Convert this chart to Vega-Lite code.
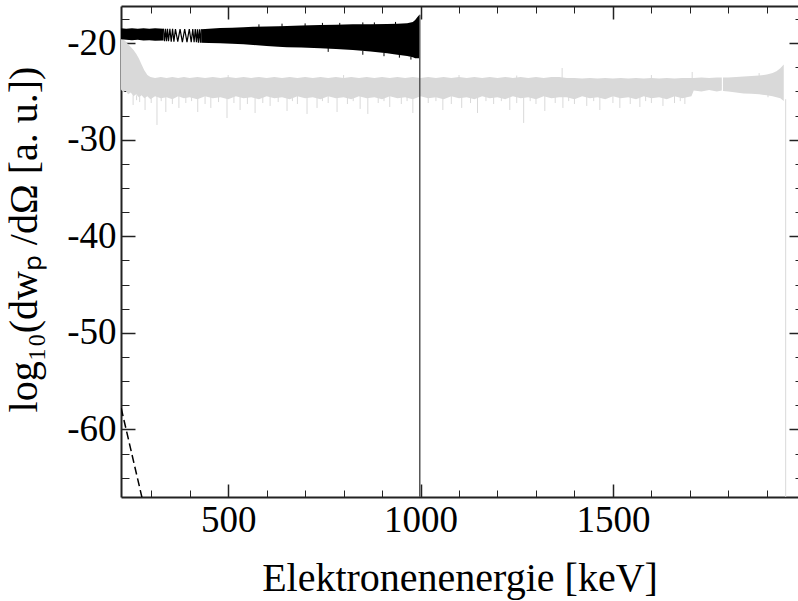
{
  "$schema": "https://vega.github.io/schema/vega-lite/v6.json",
  "width": 677,
  "height": 491,
  "autosize": {"type": "none"},
  "padding": {"left": 121, "top": 6, "right": 0, "bottom": 104},
  "config": {
    "view": {"stroke": null},
    "font": "Liberation Serif, Times New Roman, serif",
    "axis": {"grid": false, "domain": false, "labelFont": "Liberation Serif, Times New Roman, serif", "titleFont": "Liberation Serif, Times New Roman, serif", "labelColor": "#000", "titleColor": "#000", "tickColor": "#222", "domainColor": "#222", "zindex": 1}
  },
  "datasets": {
    "gray": [
      {"e": 221.5, "hi": -19.5, "lo": -24.8}, {"e": 227, "hi": -19.6, "lo": -25.1}, {"e": 233, "hi": -19.8, "lo": -24.9},
      {"e": 240, "hi": -20.1, "lo": -25.3}, {"e": 247, "hi": -20.4, "lo": -25.1}, {"e": 254, "hi": -20.7, "lo": -25.5},
      {"e": 261, "hi": -21.1, "lo": -25.3}, {"e": 268, "hi": -21.6, "lo": -25.6}, {"e": 275, "hi": -22.2, "lo": -25.4},
      {"e": 282, "hi": -22.8, "lo": -25.7}, {"e": 290, "hi": -23.3, "lo": -25.5}, {"e": 298, "hi": -23.5, "lo": -25.8},
      {"e": 310, "hi": -23.6, "lo": -25.5}, {"e": 325, "hi": -23.5, "lo": -25.7}, {"e": 340, "hi": -23.6, "lo": -25.6},
      {"e": 355, "hi": -23.5, "lo": -25.8}, {"e": 370, "hi": -23.6, "lo": -25.5}, {"e": 385, "hi": -23.5, "lo": -25.7},
      {"e": 400, "hi": -23.6, "lo": -25.6}, {"e": 420, "hi": -23.5, "lo": -25.8}, {"e": 440, "hi": -23.6, "lo": -25.5},
      {"e": 460, "hi": -23.5, "lo": -25.7}, {"e": 480, "hi": -23.6, "lo": -25.6}, {"e": 500, "hi": -23.5, "lo": -25.8},
      {"e": 520, "hi": -23.6, "lo": -25.5}, {"e": 540, "hi": -23.5, "lo": -25.7}, {"e": 560, "hi": -23.6, "lo": -25.6},
      {"e": 580, "hi": -23.5, "lo": -25.8}, {"e": 600, "hi": -23.6, "lo": -25.5}, {"e": 620, "hi": -23.5, "lo": -25.7},
      {"e": 640, "hi": -23.6, "lo": -25.6}, {"e": 660, "hi": -23.5, "lo": -25.8}, {"e": 680, "hi": -23.6, "lo": -25.5},
      {"e": 700, "hi": -23.5, "lo": -25.7}, {"e": 720, "hi": -23.6, "lo": -25.6}, {"e": 740, "hi": -23.5, "lo": -25.8},
      {"e": 760, "hi": -23.6, "lo": -25.5}, {"e": 780, "hi": -23.5, "lo": -25.7}, {"e": 800, "hi": -23.6, "lo": -25.6},
      {"e": 820, "hi": -23.5, "lo": -25.8}, {"e": 840, "hi": -23.6, "lo": -25.5}, {"e": 860, "hi": -23.5, "lo": -25.7},
      {"e": 880, "hi": -23.6, "lo": -25.6}, {"e": 900, "hi": -23.5, "lo": -25.8}, {"e": 920, "hi": -23.6, "lo": -25.5},
      {"e": 940, "hi": -23.5, "lo": -25.7}, {"e": 960, "hi": -23.6, "lo": -25.6}, {"e": 980, "hi": -23.5, "lo": -25.8},
      {"e": 1000, "hi": -23.6, "lo": -25.5}, {"e": 1020, "hi": -23.5, "lo": -25.7}, {"e": 1040, "hi": -23.6, "lo": -25.6},
      {"e": 1060, "hi": -23.5, "lo": -25.8}, {"e": 1080, "hi": -23.6, "lo": -25.5}, {"e": 1100, "hi": -23.5, "lo": -25.7},
      {"e": 1120, "hi": -23.6, "lo": -25.6}, {"e": 1140, "hi": -23.5, "lo": -25.8}, {"e": 1160, "hi": -23.6, "lo": -25.5},
      {"e": 1180, "hi": -23.5, "lo": -25.7}, {"e": 1200, "hi": -23.6, "lo": -25.6}, {"e": 1220, "hi": -23.5, "lo": -25.8},
      {"e": 1240, "hi": -23.6, "lo": -25.5}, {"e": 1260, "hi": -23.5, "lo": -25.7}, {"e": 1280, "hi": -23.6, "lo": -25.6},
      {"e": 1300, "hi": -23.5, "lo": -25.8}, {"e": 1320, "hi": -23.6, "lo": -25.5}, {"e": 1340, "hi": -23.5, "lo": -25.7},
      {"e": 1360, "hi": -23.5, "lo": -25.6}, {"e": 1380, "hi": -23.6, "lo": -25.6}, {"e": 1400, "hi": -23.6, "lo": -25.8},
      {"e": 1420, "hi": -23.65, "lo": -25.5}, {"e": 1440, "hi": -23.6, "lo": -25.7}, {"e": 1460, "hi": -23.65, "lo": -25.6},
      {"e": 1480, "hi": -23.6, "lo": -25.8}, {"e": 1500, "hi": -23.65, "lo": -25.5}, {"e": 1520, "hi": -23.6, "lo": -25.7},
      {"e": 1540, "hi": -23.65, "lo": -25.6}, {"e": 1560, "hi": -23.6, "lo": -25.8}, {"e": 1580, "hi": -23.65, "lo": -25.5},
      {"e": 1600, "hi": -23.6, "lo": -25.7}, {"e": 1620, "hi": -23.65, "lo": -25.6}, {"e": 1640, "hi": -23.6, "lo": -25.8},
      {"e": 1660, "hi": -23.65, "lo": -25.5}, {"e": 1680, "hi": -23.6, "lo": -25.7}, {"e": 1704, "hi": -23.6, "lo": -25.5},
      {"e": 1710, "hi": -23.6, "lo": -24.9}, {"e": 1730, "hi": -23.55, "lo": -25.0}, {"e": 1750, "hi": -23.6, "lo": -24.85},
      {"e": 1770, "hi": -23.55, "lo": -25.0}, {"e": 1783, "hi": -23.55, "lo": -24.9}, {"e": 1783.1, "hi": -24.3, "lo": -24.3},
      {"e": 1786, "hi": -24.3, "lo": -24.3}, {"e": 1786.1, "hi": -23.55, "lo": -24.95}, {"e": 1800, "hi": -23.55, "lo": -25.0},
      {"e": 1820, "hi": -23.5, "lo": -25.1}, {"e": 1840, "hi": -23.45, "lo": -25.2}, {"e": 1860, "hi": -23.4, "lo": -25.25},
      {"e": 1880, "hi": -23.35, "lo": -25.3}, {"e": 1900, "hi": -23.25, "lo": -25.4}, {"e": 1915, "hi": -23.1, "lo": -25.5},
      {"e": 1925, "hi": -22.9, "lo": -25.6}, {"e": 1935, "hi": -22.6, "lo": -25.7}, {"e": 1944, "hi": -22.2, "lo": -26.0}
    ],
    "graySpikes": [
      {"e": 253, "a": -25.4, "b": -26.4}, {"e": 262, "a": -25.4, "b": -25.9}, {"e": 270, "a": -25.4, "b": -26.1}, {"e": 284, "a": -25.4, "b": -26.92},
      {"e": 300, "a": -25.4, "b": -26.2}, {"e": 315, "a": -25.4, "b": -28.47}, {"e": 326, "a": -25.4, "b": -26.0}, {"e": 338, "a": -25.4, "b": -27.13},
      {"e": 355, "a": -25.4, "b": -26.3}, {"e": 372, "a": -25.4, "b": -26.71}, {"e": 390, "a": -25.4, "b": -26.2}, {"e": 405, "a": -25.4, "b": -26.0},
      {"e": 421, "a": -25.4, "b": -27.13}, {"e": 440, "a": -25.4, "b": -26.3}, {"e": 455, "a": -25.4, "b": -26.71}, {"e": 475, "a": -25.4, "b": -26.1},
      {"e": 497, "a": -25.4, "b": -27.75}, {"e": 515, "a": -25.4, "b": -26.2}, {"e": 531, "a": -25.4, "b": -26.92},
      {"e": 550, "a": -25.4, "b": -26.3}, {"e": 570, "a": -25.4, "b": -27.23}, {"e": 590, "a": -25.4, "b": -26.2},
      {"e": 609, "a": -25.4, "b": -26.5}, {"e": 630, "a": -25.4, "b": -26.1}, {"e": 653, "a": -25.4, "b": -27.02}, {"e": 667, "a": -25.4, "b": -26.0},
      {"e": 680, "a": -25.4, "b": -26.3}, {"e": 705, "a": -25.4, "b": -27.33}, {"e": 731, "a": -25.4, "b": -26.71}, {"e": 745, "a": -25.4, "b": -26.0},
      {"e": 760, "a": -25.4, "b": -26.2}, {"e": 783, "a": -25.4, "b": -27.13}, {"e": 810, "a": -25.4, "b": -26.3}, {"e": 825, "a": -25.4, "b": -26.0},
      {"e": 843, "a": -25.4, "b": -26.81}, {"e": 863, "a": -25.4, "b": -27.33}, {"e": 890, "a": -25.4, "b": -26.2}, {"e": 905, "a": -25.4, "b": -26.0},
      {"e": 920, "a": -25.4, "b": -26.61}, {"e": 950, "a": -25.4, "b": -26.3}, {"e": 965, "a": -25.4, "b": -26.0}, {"e": 980, "a": -25.4, "b": -27.23},
      {"e": 1020, "a": -25.4, "b": -26.2}, {"e": 1040, "a": -25.4, "b": -26.0}, {"e": 1058, "a": -25.4, "b": -26.92}, {"e": 1080, "a": -25.4, "b": -26.3},
      {"e": 1107, "a": -25.4, "b": -26.71}, {"e": 1130, "a": -25.4, "b": -26.2}, {"e": 1148, "a": -25.4, "b": -27.23}, {"e": 1170, "a": -25.4, "b": -26.0},
      {"e": 1190, "a": -25.4, "b": -26.3}, {"e": 1210, "a": -25.4, "b": -26.0}, {"e": 1232, "a": -25.4, "b": -26.92}, {"e": 1250, "a": -25.4, "b": -26.2},
      {"e": 1268, "a": -25.4, "b": -28.26}, {"e": 1285, "a": -25.4, "b": -26.0}, {"e": 1300, "a": -25.4, "b": -26.3}, {"e": 1323, "a": -25.4, "b": -27.02},
      {"e": 1350, "a": -25.4, "b": -26.2}, {"e": 1370, "a": -25.4, "b": -26.71}, {"e": 1385, "a": -25.4, "b": -26.0}, {"e": 1400, "a": -25.4, "b": -26.3},
      {"e": 1432, "a": -25.4, "b": -26.5}, {"e": 1450, "a": -25.4, "b": -26.0}, {"e": 1466, "a": -25.4, "b": -26.92}, {"e": 1500, "a": -25.4, "b": -26.2},
      {"e": 1518, "a": -25.4, "b": -26.71}, {"e": 1545, "a": -25.4, "b": -26.3}, {"e": 1570, "a": -25.4, "b": -26.61}, {"e": 1585, "a": -25.4, "b": -26.0},
      {"e": 1600, "a": -25.4, "b": -26.2}, {"e": 1630, "a": -25.4, "b": -26.5}, {"e": 1660, "a": -25.4, "b": -26.2}, {"e": 1675, "a": -25.4, "b": -26.0},
      {"e": 1687, "a": -25.4, "b": -26.3}, {"e": 1903, "a": -25.2, "b": -25.6},
      {"e": 1368, "a": -23.8, "b": -22.57}, {"e": 1706, "a": -23.8, "b": -22.98}, {"e": 500, "a": -23.8, "b": -23.3},
      {"e": 800, "a": -23.8, "b": -23.3}, {"e": 1100, "a": -23.8, "b": -23.3}, {"e": 1250, "a": -23.8, "b": -23.35},
      {"e": 1600, "a": -23.8, "b": -23.3}, {"e": 1880, "a": -23.8, "b": -23.1}
    ],
    "grayEnd": [{"e": 1949, "a": -25.8, "b": -67}],
    "black": [
      {"seg": "a", "e": 221.5, "hi": -18.45, "lo": -19.6}, {"seg": "a", "e": 235, "hi": -18.5, "lo": -19.65},
      {"seg": "a", "e": 250, "hi": -18.45, "lo": -19.7}, {"seg": "a", "e": 265, "hi": -18.5, "lo": -19.65},
      {"seg": "a", "e": 280, "hi": -18.45, "lo": -19.72}, {"seg": "a", "e": 295, "hi": -18.5, "lo": -19.7},
      {"seg": "a", "e": 310, "hi": -18.45, "lo": -19.75}, {"seg": "a", "e": 332, "hi": -18.5, "lo": -19.72},
      {"seg": "b", "e": 430, "hi": -18.55, "lo": -19.95}, {"seg": "b", "e": 450, "hi": -18.5, "lo": -19.98},
      {"seg": "b", "e": 479, "hi": -18.43, "lo": -20.01}, {"seg": "b", "e": 510, "hi": -18.4, "lo": -20.06},
      {"seg": "b", "e": 540, "hi": -18.35, "lo": -20.12}, {"seg": "b", "e": 565, "hi": -18.3, "lo": -20.19},
      {"seg": "b", "e": 600, "hi": -18.28, "lo": -20.28}, {"seg": "b", "e": 630, "hi": -18.25, "lo": -20.36},
      {"seg": "b", "e": 653, "hi": -18.22, "lo": -20.42}, {"seg": "b", "e": 690, "hi": -18.18, "lo": -20.46},
      {"seg": "b", "e": 739, "hi": -18.12, "lo": -20.53}, {"seg": "b", "e": 780, "hi": -18.08, "lo": -20.6},
      {"seg": "b", "e": 824, "hi": -18.05, "lo": -20.7}, {"seg": "b", "e": 870, "hi": -18.03, "lo": -20.85},
      {"seg": "b", "e": 913, "hi": -18.01, "lo": -21.05}, {"seg": "b", "e": 940, "hi": -17.98, "lo": -21.2},
      {"seg": "b", "e": 965, "hi": -17.94, "lo": -21.33}, {"seg": "b", "e": 980, "hi": -17.8, "lo": -21.45},
      {"seg": "b", "e": 986, "hi": -17.6, "lo": -21.56}, {"seg": "b", "e": 992, "hi": -17.3, "lo": -21.56},
      {"seg": "b", "e": 997, "hi": -17.05, "lo": -21.56}
    ],
    "wiggle": [
      {"e": 332, "v": -18.5}, {"e": 334.6, "v": -19.8}, {"e": 337.2, "v": -18.5}, {"e": 339.8, "v": -19.8},
      {"e": 342.4, "v": -18.5}, {"e": 345, "v": -19.8}, {"e": 348.5, "v": -18.5}, {"e": 352, "v": -19.85},
      {"e": 355.5, "v": -18.5}, {"e": 359, "v": -19.85}, {"e": 363, "v": -18.55}, {"e": 369, "v": -19.85},
      {"e": 375, "v": -18.55}, {"e": 381, "v": -19.9}, {"e": 387, "v": -18.55}, {"e": 393, "v": -19.9},
      {"e": 399, "v": -18.55}, {"e": 404, "v": -19.9}, {"e": 408, "v": -18.55}, {"e": 411.5, "v": -19.9},
      {"e": 414.5, "v": -18.55}, {"e": 417.5, "v": -19.9}, {"e": 420, "v": -18.55}, {"e": 422.6, "v": -19.95},
      {"e": 425.2, "v": -18.55}, {"e": 427.8, "v": -19.95}, {"e": 430, "v": -18.55}
    ],
    "blackSpikes": [
      {"e": 580, "a": -18.4, "b": -18.05}, {"e": 640, "a": -18.3, "b": -17.98}, {"e": 700, "a": -18.25, "b": -17.95},
      {"e": 745, "a": -18.2, "b": -17.9}, {"e": 790, "a": -18.15, "b": -17.9}, {"e": 850, "a": -18.1, "b": -17.85},
      {"e": 880, "a": -18.1, "b": -17.85}, {"e": 935, "a": -18.05, "b": -17.8},
      {"e": 760, "a": -20.5, "b": -20.9}, {"e": 850, "a": -20.8, "b": -21.2}, {"e": 905, "a": -21.0, "b": -21.35},
      {"e": 945, "a": -21.2, "b": -21.5}, {"e": 975, "a": -21.4, "b": -21.7}
    ],
    "drop": [{"e": 998, "a": -17.05, "b": -67}],
    "dashed": [{"e": 215, "v": -56.6}, {"e": 250, "v": -62.6}, {"e": 292, "v": -69.8}]
  },
  "resolve": {"scale": {"x": "shared", "y": "shared"}, "axis": {"x": "independent", "y": "independent"}},
  "layer": [
    {
      "data": {"name": "gray"},
      "mark": {"type": "area", "color": "#d9d9d9", "clip": true},
      "encoding": {
        "x": {"field": "e", "type": "quantitative", "scale": {"domain": [221.5, 1981], "nice": false, "zero": false},
          "axis": {"orient": "bottom", "values": [500, 1000, 1500], "tickSize": -13, "tickWidth": 1.5, "labelPadding": 18, "labelFontSize": 37, "labelFlush": false, "labelOverlap": false, "labelExpr": "format(datum.value, 'd')", "domain": true, "domainWidth": 2,
            "title": "Elektronenenergie [keV]", "titleFontSize": 40, "titleFontWeight": "normal", "titleBaseline": "alphabetic", "titleY": 93}},
        "y": {"field": "hi", "type": "quantitative", "scale": {"domain": [-67, -16.15], "nice": false, "zero": false},
          "axis": {"orient": "left", "values": [-60, -50, -40, -30, -20], "tickSize": -14, "tickWidth": 1.5, "labelPadding": 19, "labelFontSize": 37, "labelFlush": false, "labelOverlap": false, "labelExpr": "'-' + abs(datum.value)", "domain": true, "domainWidth": 2,
            "title": "log₁₀(dwₚ /dΩ [a. u.])", "titleFontSize": 40, "titleFontWeight": "normal", "titleAngle": 270, "titleBaseline": "alphabetic", "titleAlign": "center", "titleX": -85, "titleY": 233}},
        "y2": {"field": "lo"}
      }
    },
    {
      "data": {"name": "graySpikes"},
      "mark": {"type": "rule", "color": "#d9d9d9", "strokeWidth": 1, "clip": true},
      "encoding": {
        "x": {"field": "e", "type": "quantitative", "scale": {"domain": [221.5, 1981], "nice": false, "zero": false},
          "axis": {"orient": "bottom", "values": [300, 400, 600, 700, 800, 900, 1100, 1200, 1300, 1400, 1600, 1700, 1800, 1900], "tickSize": -7, "tickWidth": 1, "labels": false, "title": null}},
        "y": {"field": "a", "type": "quantitative", "scale": {"domain": [-67, -16.15], "nice": false, "zero": false},
          "axis": {"orient": "left", "values": [-65, -62.5, -57.5, -55, -52.5, -47.5, -45, -42.5, -37.5, -35, -32.5, -27.5, -25, -22.5, -17.5], "tickSize": -8, "tickWidth": 1, "labels": false, "title": null}},
        "y2": {"field": "b"}
      }
    },
    {
      "data": {"name": "grayEnd"},
      "mark": {"type": "rule", "color": "#d9d9d9", "strokeWidth": 1, "clip": true},
      "encoding": {
        "x": {"field": "e", "type": "quantitative", "scale": {"domain": [221.5, 1981], "nice": false, "zero": false},
          "axis": {"orient": "top", "values": [500, 1000, 1500], "tickSize": -13, "tickWidth": 1.5, "labels": false, "domain": true, "domainWidth": 2, "title": null}},
        "y": {"field": "a", "type": "quantitative", "scale": {"domain": [-67, -16.15], "nice": false, "zero": false},
          "axis": {"orient": "right", "values": [-60, -50, -40, -30, -20], "tickSize": -14, "tickWidth": 1.5, "labels": false, "domain": true, "domainWidth": 2, "offset": 5, "title": null}},
        "y2": {"field": "b"}
      }
    },
    {
      "data": {"name": "black"},
      "mark": {"type": "area", "color": "#000", "clip": true},
      "encoding": {
        "x": {"field": "e", "type": "quantitative", "scale": {"domain": [221.5, 1981], "nice": false, "zero": false},
          "axis": {"orient": "top", "values": [300, 400, 600, 700, 800, 900, 1100, 1200, 1300, 1400, 1600, 1700, 1800, 1900], "tickSize": -7, "tickWidth": 1, "labels": false, "title": null}},
        "y": {"field": "hi", "type": "quantitative", "scale": {"domain": [-67, -16.15], "nice": false, "zero": false},
          "axis": {"orient": "right", "values": [-65, -62.5, -57.5, -55, -52.5, -47.5, -45, -42.5, -37.5, -35, -32.5, -27.5, -25, -22.5, -17.5], "tickSize": -8, "tickWidth": 1, "labels": false, "offset": 5, "title": null}},
        "y2": {"field": "lo"},
        "detail": {"field": "seg", "type": "nominal"}
      }
    },
    {
      "data": {"name": "wiggle"},
      "mark": {"type": "line", "color": "#000", "strokeWidth": 1.2, "clip": true},
      "encoding": {
        "x": {"field": "e", "type": "quantitative", "scale": {"domain": [221.5, 1981], "nice": false, "zero": false}, "axis": null},
        "y": {"field": "v", "type": "quantitative", "scale": {"domain": [-67, -16.15], "nice": false, "zero": false}, "axis": null}
      }
    },
    {
      "data": {"name": "blackSpikes"},
      "mark": {"type": "rule", "color": "#000", "strokeWidth": 1, "clip": true},
      "encoding": {
        "x": {"field": "e", "type": "quantitative", "scale": {"domain": [221.5, 1981], "nice": false, "zero": false}, "axis": null},
        "y": {"field": "a", "type": "quantitative", "scale": {"domain": [-67, -16.15], "nice": false, "zero": false}, "axis": null},
        "y2": {"field": "b"}
      }
    },
    {
      "data": {"name": "drop"},
      "mark": {"type": "rule", "color": "#555", "strokeWidth": 1.5, "clip": true},
      "encoding": {
        "x": {"field": "e", "type": "quantitative", "scale": {"domain": [221.5, 1981], "nice": false, "zero": false}, "axis": null},
        "y": {"field": "a", "type": "quantitative", "scale": {"domain": [-67, -16.15], "nice": false, "zero": false}, "axis": null},
        "y2": {"field": "b"}
      }
    },
    {
      "data": {"name": "dashed"},
      "mark": {"type": "line", "color": "#000", "strokeWidth": 1.5, "strokeDash": [8, 4], "clip": true},
      "encoding": {
        "x": {"field": "e", "type": "quantitative", "scale": {"domain": [221.5, 1981], "nice": false, "zero": false}, "axis": null},
        "y": {"field": "v", "type": "quantitative", "scale": {"domain": [-67, -16.15], "nice": false, "zero": false}, "axis": null}
      }
    }
  ]
}
